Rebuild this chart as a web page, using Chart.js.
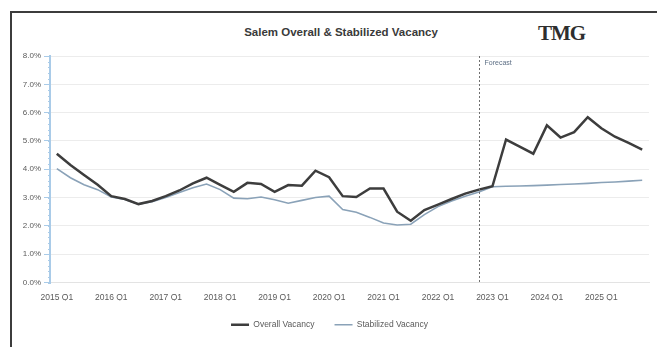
<!DOCTYPE html>
<html>
<head>
<meta charset="utf-8">
<script src="https://cdn.jsdelivr.net/npm/chart.js@4/dist/chart.umd.min.js"></script>
<style>
  html, body { margin: 0; padding: 0; background: #ffffff; }
  body { width: 657px; height: 347px; position: relative; overflow: hidden; font-family: "Liberation Sans", Arial, sans-serif; }
  #frame { position: absolute; left: 10px; top: 11px; width: 700px; height: 400px;
           border-left: 2px solid #3c3c3c; border-top: 2px solid #3c3c3c; }
  #title { position: absolute; left: 0; width: 682px; top: 26px; text-align: center;
           font: bold 11.5px "Liberation Sans", Arial, sans-serif; color: #3a3a3a; }
  #logo { position: absolute; left: 538px; top: 21px; font: bold 21px "Liberation Serif", "DejaVu Serif", serif;
          color: #2e2e2e; letter-spacing: -1px; }
  #wrap { position: absolute; left: 0; top: 0; width: 657px; height: 347px; }
</style>
</head>
<body>
<div id="frame"></div>
<div id="title">Salem Overall &amp; Stabilized Vacancy</div>
<div id="logo">TMG</div>
<div id="wrap"><canvas id="c" width="657" height="347"></canvas></div>
<script>
// Quarterly categories, 2015 Q1 through 2025 Q4
const years = [2015, 2016, 2017, 2018, 2019, 2020, 2021, 2022, 2023, 2024, 2025];
const quarters = ["Q1", "Q2", "Q3", "Q4"];
const categories = [];
years.forEach(y => quarters.forEach(q => categories.push(y + " " + q)));

// Vacancy rates (%)
const overallVacancy = [
  4.55, 4.15, 3.80, 3.45, 3.05, 2.95, 2.77, 2.88, 3.05, 3.25,
  3.50, 3.70, 3.45, 3.20, 3.52, 3.48, 3.20, 3.44, 3.42, 3.95,
  3.72, 3.05, 3.02, 3.32, 3.32, 2.50, 2.18, 2.56, 2.75, 2.95,
  3.14, 3.28, 3.40, 5.05, 4.80, 4.55, 5.55, 5.12, 5.31, 5.84,
  5.45, 5.15, 4.93, 4.69
];
const stabilizedVacancy = [
  4.02, 3.70, 3.45, 3.28, 3.02, 2.93, 2.77, 2.85, 3.00, 3.18,
  3.35, 3.48, 3.28, 2.98, 2.96, 3.02, 2.92, 2.80, 2.90, 3.00,
  3.05, 2.58, 2.48, 2.30, 2.10, 2.03, 2.06, 2.40, 2.68, 2.88,
  3.05, 3.20, 3.38, 3.40, 3.41, 3.42, 3.44, 3.46, 3.48, 3.50,
  3.53, 3.55, 3.58, 3.61
];
const forecastStart = "2022 Q4";
const yTicks = [0, 1, 2, 3, 4, 5, 6, 7, 8];

// Forecast divider, its caption, and the minor tick marks on the value axis
const decorations = {
  id: "decorations",
  afterDatasetsDraw(chart) {
    const { ctx, chartArea, scales } = chart;
    const x = Math.round(scales.x.getPixelForValue(categories.indexOf(forecastStart))) + 0.5;
    ctx.save();
    ctx.strokeStyle = "#6f6f6f";
    ctx.lineWidth = 1;
    ctx.setLineDash([2, 2]);
    ctx.beginPath();
    ctx.moveTo(x, chartArea.top);
    ctx.lineTo(x, chartArea.bottom);
    ctx.stroke();
    ctx.setLineDash([]);
    ctx.fillStyle = "#5d6f85";
    ctx.font = "7px 'Liberation Sans', Arial, sans-serif";
    ctx.textBaseline = "middle";
    ctx.fillText("Forecast", x + 5, chartArea.top + 7);

    ctx.strokeStyle = "#a9cbe8";
    ctx.lineWidth = 1;
    const ys = scales.y;
    for (let v = 0; v <= 8.0001; v += 0.2) {
      const py = Math.round(ys.getPixelForValue(v)) + 0.5;
      ctx.beginPath();
      ctx.moveTo(ys.right - 2, py);
      ctx.lineTo(ys.right + 1, py);
      ctx.stroke();
    }
    ctx.restore();
  }
};

new Chart(document.getElementById("c"), {
  type: "line",
  data: {
    labels: categories,
    datasets: [
      {
        label: "Overall Vacancy",
        data: overallVacancy,
        borderColor: "#3d3d3d",
        backgroundColor: "#3d3d3d",
        borderWidth: 2.5,
        pointRadius: 0,
        tension: 0
      },
      {
        label: "Stabilized Vacancy",
        data: stabilizedVacancy,
        borderColor: "#8aa2b8",
        backgroundColor: "#8aa2b8",
        borderWidth: 1.6,
        pointRadius: 0,
        tension: 0
      }
    ]
  },
  options: {
    responsive: false,
    animation: false,
    layout: { padding: { left: 10, right: 8, top: 56, bottom: 8 } },
    plugins: {
      title: { display: false },
      tooltip: { enabled: false },
      legend: {
        position: "bottom",
        labels: {
          usePointStyle: true,
          pointStyle: "line",
          pointStyleWidth: 18,
          boxHeight: 6,
          padding: 20,
          color: "#5a5a5a",
          font: { family: "'Liberation Sans', Arial, sans-serif", size: 8.5 }
        }
      }
    },
    scales: {
      x: {
        offset: true,
        grid: { display: false, drawTicks: false },
        border: { display: true, color: "#e3e3e3", width: 1 },
        ticks: {
          autoSkip: false,
          maxRotation: 0,
          minRotation: 0,
          padding: 10,
          color: "#5a5a5a",
          font: { family: "'Liberation Sans', Arial, sans-serif", size: 8.5 },
          callback(value, index) { return index % 4 === 0 ? categories[index] : ""; }
        },
        afterFit(scale) { scale.height = 18; }
      },
      y: {
        min: 0,
        max: 8,
        afterBuildTicks(scale) { scale.ticks = yTicks.map(v => ({ value: v })); },
        grid: { color: "#ececec", lineWidth: 1, tickLength: 6, tickColor: "#a9cbe8" },
        border: { display: true, color: "#a9cbe8", width: 2 },
        ticks: {
          padding: 3,
          color: "#5a5a5a",
          font: { family: "'Liberation Sans', Arial, sans-serif", size: 8 },
          callback(value) { return Number(value).toFixed(1) + "%"; }
        },
        afterFit(scale) { scale.width = 40; }
      }
    }
  },
  plugins: [decorations]
});
</script>
</body>
</html>
